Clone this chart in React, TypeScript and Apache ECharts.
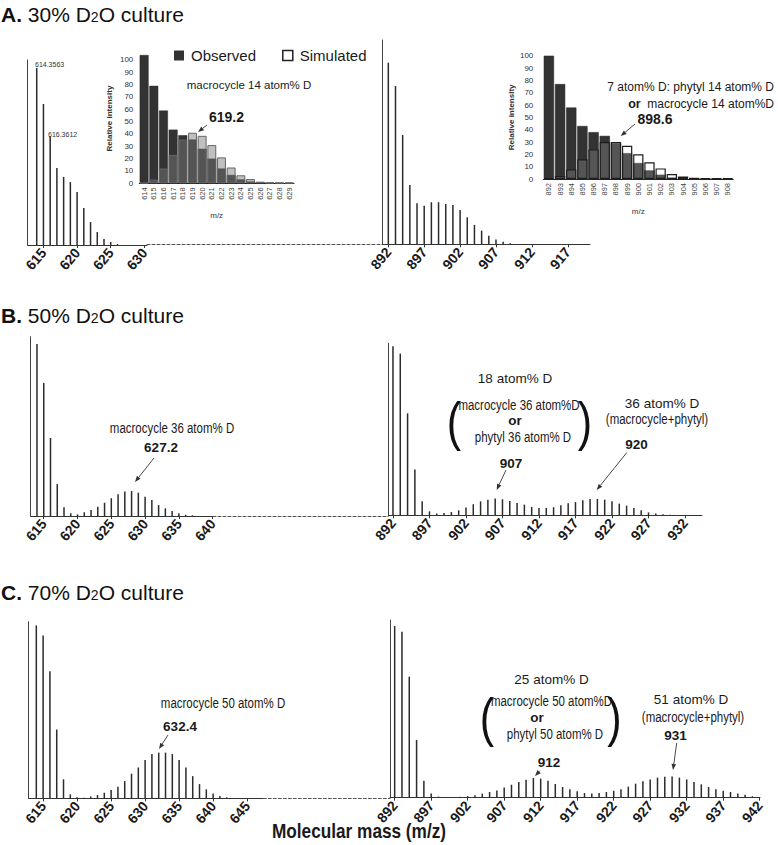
import React, { useEffect, useRef } from 'react';
import * as echarts from 'echarts';

// ---------- data ----------
const range = (start: number, n: number) => Array.from({ length: n }, (_, i) => start + i);

// Panel A (30% D2O) spectra, relative intensity (% of axis height)
const aLeftStart = 614;
const aLeftIntensity = [95.7, 76.2, 58.9, 41.6, 36.8, 34, 28.6, 20, 12.4, 7, 3.2, 1.6, 0.5];
const aRightStart = 892;
const aRightIntensity = [88.9, 77.5, 53.5, 29, 20.1, 18.9, 20.6, 20.6, 19.7, 19.2, 16.8, 13.2, 9.5, 6.7, 4.2, 2.4, 1.3, 0.5];

// Panel B (50% D2O)
const bLeftStart = 614;
const bLeftIntensity = [95.9, 74.2, 43.5, 17.8, 4.9, 1.5, 0.9, 2.1, 3.3, 5.2, 7.4, 9.9, 12.1, 13.6, 13.9, 13, 10.8, 8.9, 6.1, 4.3, 2.8, 1.5, 0.7, 0.4];
const bRightStart = 892;
const bRightIntensity = [98.3, 94, 59.3, 26.6, 8.1, 2.3, 1, 1.3, 1.9, 2.9, 4.5, 6.4, 8.1, 9.1, 9.7, 9.3, 8.3, 7.2, 6.2, 4.8, 4.3, 4.3, 4.7, 5.9, 7, 7.7, 8.7, 9.5, 9.5, 9.1, 8.1, 6.8, 5.6, 4.2, 2.9, 1.7, 1, 0.6, 0.3];

// Panel C (70% D2O)
const cLeftStart = 614;
const cLeftIntensity = [97.9, 92.2, 71.9, 39, 10.8, 2.3, 0.7, 0.4, 1.1, 1.9, 3.2, 4.7, 6.6, 9.8, 14, 17.5, 21.7, 25.1, 25.9, 25.9, 25.1, 21.7, 17.5, 12.6, 8.1, 5.1, 2.8, 1.3, 0.6];
const cRightStart = 892;
const cRightIntensity = [96.6, 93.4, 68.1, 32.5, 9.6, 2.4, 0.6, 0.3, 0.3, 0.5, 0.9, 1.4, 2.3, 3.2, 4.1, 5.8, 7.3, 8.8, 10.1, 11.1, 10.7, 9.6, 7.7, 6, 4.7, 3.6, 2.6, 2.3, 2.6, 3.2, 3.9, 4.7, 6.2, 7.9, 9.2, 10.3, 11.3, 11.8, 12, 11.3, 10.3, 8.8, 7.5, 6, 4.7, 3.9, 3.2, 2.3, 1.7, 0.8];

// Tick labels
const aLeftTicks = [615, 620, 625, 630];
const aRightTicks = [892, 897, 902, 907, 912, 917];
const bLeftTicks = [615, 620, 625, 630, 635, 640];
const bRightTicks = [892, 897, 902, 907, 912, 917, 922, 927, 932];
const cLeftTicks = [615, 620, 625, 630, 635, 640, 645];
const cRightTicks = [892, 897, 902, 907, 912, 917, 922, 927, 932, 937, 942];

// Insets (panel A)
const insetLeftCats = ['614', '615', '616', '617', '618', '619', '620', '621', '622', '623', '624', '625', '626', '627', '628', '629'];
const insetLeftObserved = [104, 79, 59, 43.5, 39, 35.5, 28, 20, 12, 6.8, 3.2, 1.5, 1, 0.5, 0.4, 0.4];
const insetLeftSimulated = [0.3, 3, 12, 23, 35.5, 41, 38.5, 31, 21, 12.8, 6.5, 3.5, 1.2, 0.5, 0.4, 0.4];
const insetRightCats = ['892', '893', '894', '895', '896', '897', '898', '899', '900', '901', '902', '903', '904', '905', '906', '907', '908'];
const insetRightObserved = [100, 77, 58, 43, 38, 35, 29, 21, 13, 7, 3.5, 1, 0.5, 0.3, 0.3, 0.3, 0.3];
const insetRightSimulated = [0.5, 2.5, 7.8, 16, 24, 30, 30, 27, 20, 13.5, 8.6, 4, 2, 1, 0.5, 0.5, 0.5];

// ---------- styling helpers ----------
const SANS = "'Liberation Sans', Arial, Helvetica, sans-serif";
const NARROW = "'Liberation Sans Narrow', 'Arial Narrow', 'Liberation Sans', Arial, sans-serif";
const INK = '#1a1a1a';

type Box = { left: number; top: number; width: number; height: number };

function spectrumParts(box: Box, min: number, max: number, ticks: number[], start: number, intensity: number[]) {
  const mz = range(start, intensity.length);
  return {
    grid: { ...box },
    xAxis: {
      type: 'value', min, max,
      axisLine: { show: true, onZero: false, lineStyle: { color: '#333', width: 1 } },
      axisTick: { show: true, customValues: ticks, length: 3, lineStyle: { color: '#333' } },
      axisLabel: { customValues: ticks, rotate: 50, margin: 5, fontSize: 14, fontWeight: 'bold', fontFamily: NARROW, color: INK },
      splitLine: { show: false },
    },
    yAxis: {
      type: 'value', min: 0, max: 100,
      axisLine: { show: true, lineStyle: { color: '#444', width: 1 } },
      axisTick: { show: false }, axisLabel: { show: false }, splitLine: { show: false },
    },
    series: {
      type: 'bar', barWidth: 1.5, silent: true,
      itemStyle: { color: '#2b2b2b' },
      data: mz.map((m, i) => [m, intensity[i]]),
    },
  };
}

function gapParts(left: number, right: number, baseline: number) {
  return {
    grid: { left, width: right - left, top: baseline - 10, height: 10 },
    xAxis: {
      type: 'value', min: 0, max: 1,
      axisLine: { show: true, onZero: false, lineStyle: { color: '#555', width: 1, type: [3, 2] } },
      axisTick: { show: false }, axisLabel: { show: false }, splitLine: { show: false },
    },
    yAxis: { type: 'value', min: 0, max: 1, show: false },
    series: null,
  };
}

function insetParts(box: Box, cats: string[], obs: number[], sim: number[], yMax: number, simStyle: any, labelMargin: number, nameGap: number) {
  return {
    grid: { ...box },
    xAxis: {
      type: 'category', data: cats,
      axisLine: { show: true, lineStyle: { color: '#222', width: 1 } },
      axisTick: { show: false },
      axisLabel: { rotate: 90, interval: 0, fontSize: 7.5, color: '#444', margin: 4, fontFamily: SANS },
      name: 'm/z', nameLocation: 'middle', nameGap: 28,
      nameTextStyle: { fontSize: 8, color: '#333', fontFamily: SANS },
      splitLine: { show: false },
    },
    yAxis: {
      type: 'value', min: 0, max: yMax, interval: 10,
      axisLine: { show: false }, axisTick: { show: false }, splitLine: { show: false },
      axisLabel: { fontSize: 8, color: '#333', margin: labelMargin, fontFamily: SANS, formatter: (v: number) => (v % 10 === 0 ? String(v) : '') },
      name: 'Relative intensity', nameLocation: 'middle', nameGap, nameRotate: 90,
      nameTextStyle: { fontSize: 8, color: '#333', fontWeight: 'bold', fontFamily: SANS },
    },
    series: [
      {
        type: 'bar', name: 'Observed', data: obs, barGap: '-100%', barCategoryGap: '8%', silent: true,
        itemStyle: { color: '#333333', borderColor: '#2a2a2a', borderWidth: 0.5 },
      },
      {
        type: 'bar', name: 'Simulated', data: sim, barGap: '-100%', barCategoryGap: '8%', silent: true,
        itemStyle: simStyle,
      },
    ],
  };
}

// ---------- graphic helpers ----------
function txt(x: number, y: number, text: string, size: number, opts: any = {}) {
  const { bold, narrow, scaleX, align, ...rest } = opts;
  return {
    type: 'text', x, y, scaleX: scaleX ?? (narrow ? 0.82 : 1), z: 50,
    style: {
      text, fontSize: size, fontWeight: bold ? 'bold' : 'normal', fontFamily: SANS, fill: INK,
      align: align ?? 'center', verticalAlign: 'middle', ...rest,
    },
  };
}

function arrow(x1: number, y1: number, x2: number, y2: number) {
  const ang = Math.atan2(y2 - y1, x2 - x1);
  const L = 6, W = 2.3;
  const bx = x2 - L * Math.cos(ang), by = y2 - L * Math.sin(ang);
  const px = -Math.sin(ang) * W, py = Math.cos(ang) * W;
  return [
    { type: 'line', z: 50, shape: { x1, y1, x2: bx, y2: by }, style: { stroke: '#333', lineWidth: 0.9 } },
    { type: 'polygon', z: 50, shape: { points: [[x2, y2], [bx + px, by + py], [bx - px, by - py]] }, style: { fill: '#333' } },
  ];
}

function panelTitle(letter: string, pct: number, y: number) {
  return {
    type: 'text', x: 1, y, z: 50,
    style: {
      text: `{b|${letter}.}{n| ${pct}% D}{s|2}{n|O culture}`,
      verticalAlign: 'middle', align: 'left',
      rich: {
        b: { fontSize: 21, fontWeight: 'bold', fontFamily: SANS, fill: '#111' },
        n: { fontSize: 21, fontFamily: SANS, fill: '#111' },
        s: { fontSize: 14, fontFamily: SANS, fill: '#111', padding: [5, 0, 0, 0] },
      },
    },
  };
}

function paren(x: number, y: number, ch: string) {
  return { type: 'text', x, y, z: 50, scaleX: 0.8, style: { text: ch, fontSize: 54, fontFamily: SANS, fill: '#111', align: 'center', verticalAlign: 'middle' } };
}

function buildOption() {
  const parts = [
    spectrumParts({ left: 27.7, top: 60, width: 119.3, height: 185 }, 612.66, 630.39, aLeftTicks, aLeftStart, aLeftIntensity),
    spectrumParts({ left: 382, top: 40, width: 208, height: 204.3 }, 891.12, 920.1, aRightTicks, aRightStart, aRightIntensity),
    gapParts(147, 382, 244.5),
    spectrumParts({ left: 30.7, top: 336.7, width: 182.3, height: 179.3 }, 613.07, 640.05, bLeftTicks, bLeftStart, bLeftIntensity),
    spectrumParts({ left: 388.3, top: 343.3, width: 313.7, height: 172 }, 891.36, 934.33, bRightTicks, bRightStart, bRightIntensity),
    gapParts(213, 388.3, 516),
    spectrumParts({ left: 28.7, top: 621.7, width: 234.6, height: 176.7 }, 612.88, 647.38, cLeftTicks, cLeftStart, cLeftIntensity),
    spectrumParts({ left: 390, top: 620, width: 370, height: 177.7 }, 891.36, 942.04, cRightTicks, cRightStart, cRightIntensity),
    gapParts(263.3, 390, 798),
    insetParts({ left: 139.3, top: 53.8, width: 154.7, height: 129.5 }, insetLeftCats, insetLeftObserved, insetLeftSimulated, 105,
      { color: 'rgba(122,122,122,0.475)', borderColor: '#666', borderWidth: 1 }, 6, 26),
    insetParts({ left: 543.3, top: 55.7, width: 190, height: 123.3 }, insetRightCats, insetRightObserved, insetRightSimulated, 100,
      { color: 'rgba(255,255,255,0.17)', borderColor: '#1e1e1e', borderWidth: 1.2 }, 10, 28),
  ];

  const grid: any[] = [];
  const xAxis: any[] = [];
  const yAxis: any[] = [];
  const series: any[] = [];
  parts.forEach((p, i) => {
    grid.push(p.grid);
    xAxis.push({ ...p.xAxis, gridIndex: i });
    yAxis.push({ ...p.yAxis, gridIndex: i });
    const s = p.series;
    if (s) {
      const list = Array.isArray(s) ? s : [s];
      list.forEach((one: any) => series.push({ ...one, xAxisIndex: i, yAxisIndex: i }));
    }
  });

  const elements: any[] = [
    panelTitle('A', 30, 14),
    panelTitle('B', 50, 315),
    panelTitle('C', 70, 592),
    // panel A peak labels
    txt(35, 64, '614.3563', 7, { align: 'left', fill: '#333' }),
    txt(48, 134, '616.3612', 7, { align: 'left', fill: '#333' }),
    // panel A left inset
    txt(249, 85, 'macrocycle 14 atom% D', 11.5),
    txt(226.5, 117, '619.2', 14, { bold: true }),
    ...arrow(207, 125, 198, 132),
    // panel A right inset
    txt(774, 87, '7 atom% D: phytyl 14 atom% D', 12, { align: 'right' }),
    {
      type: 'text', x: 774, y: 104, z: 50,
      style: {
        text: '{b|or}{n|  macrocycle 14 atom%D}', align: 'right', verticalAlign: 'middle',
        rich: {
          b: { fontSize: 12.5, fontWeight: 'bold', fontFamily: SANS, fill: INK },
          n: { fontSize: 12, fontFamily: SANS, fill: INK },
        },
      },
    },
    txt(655, 119, '898.6', 14, { bold: true }),
    ...arrow(635, 124, 620.7, 136),
    // panel B
    txt(172, 428, 'macrocycle 36 atom% D', 14, { narrow: true }),
    txt(161, 447, '627.2', 13.5, { bold: true }),
    ...arrow(154, 458, 135, 482),
    txt(515, 378, '18 atom% D', 13.5),
    paren(454, 421, '('),
    paren(585, 421, ')'),
    txt(519, 405, 'macrocycle 36 atom%D', 14, { narrow: true }),
    txt(515, 420, 'or', 13.5, { bold: true }),
    txt(523, 437, 'phytyl 36 atom% D', 14, { narrow: true }),
    txt(511, 463, '907', 13.5, { bold: true }),
    ...arrow(506, 470, 496.7, 490),
    txt(662, 403, '36 atom% D', 13.5),
    txt(657, 419, '(macrocycle+phytyl)', 14, { narrow: true }),
    txt(636.5, 444, '920', 13.5, { bold: true }),
    ...arrow(626.7, 452.7, 596.7, 490),
    // panel C
    txt(223, 703, 'macrocycle 50 atom% D', 14, { narrow: true }),
    txt(180, 726, '632.4', 13.5, { bold: true }),
    ...arrow(168, 735, 159, 749),
    txt(551.5, 679, '25 atom% D', 13.5),
    paren(487, 717, '('),
    paren(614.5, 717, ')'),
    txt(551.5, 701, 'macrocycle 50 atom%D', 14, { narrow: true }),
    txt(537, 717, 'or', 13.5, { bold: true }),
    txt(555, 734, 'phytyl 50 atom% D', 14, { narrow: true }),
    txt(549, 762, '912', 13.5, { bold: true }),
    ...arrow(540, 770.7, 535, 776),
    txt(691, 699, '51 atom% D', 13.5),
    txt(693, 717, '(macrocycle+phytyl)', 14, { narrow: true }),
    txt(675.5, 735, '931', 13.5, { bold: true }),
    ...arrow(676.7, 743, 673, 770),
    // shared axis title
    txt(359, 831, 'Molecular mass (m/z)', 21, { bold: true, narrow: true }),
  ];

  return {
    animation: false,
    backgroundColor: '#ffffff',
    textStyle: { fontFamily: SANS },
    legend: {
      left: 169, top: 43, itemWidth: 10, itemHeight: 10, itemGap: 26, icon: 'rect', selectedMode: false,
      textStyle: { fontSize: 15, color: INK, fontFamily: SANS, padding: [0, 0, 0, 2] },
      data: [
        { name: 'Observed', itemStyle: { color: '#333333', borderWidth: 0 } },
        { name: 'Simulated', itemStyle: { color: '#ffffff', borderColor: '#222', borderWidth: 1.5 } },
      ],
    },
    grid, xAxis, yAxis, series,
    graphic: { elements },
  };
}

export default function App() {
  const ref = useRef<HTMLDivElement>(null);
  useEffect(() => {
    if (!ref.current) return;
    const chart = echarts.init(ref.current, null, { renderer: 'svg' });
    chart.setOption(buildOption() as any);
    return () => chart.dispose();
  }, []);
  return (
    <div
      ref={ref}
      style={{ position: 'fixed', left: 0, top: 0, width: 778, height: 845, background: '#fff' }}
    />
  );
}
